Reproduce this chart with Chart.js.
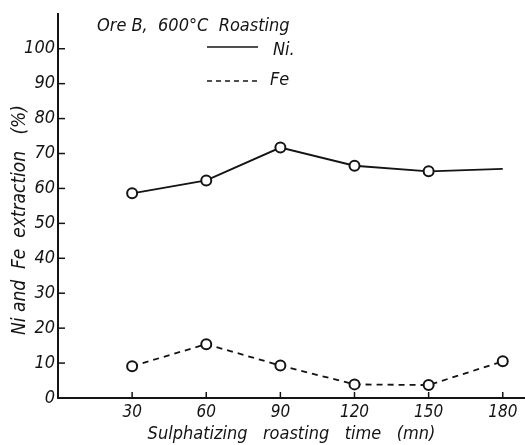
<!DOCTYPE html>
<html>
<head>
<meta charset="utf-8">
<script src="https://cdn.jsdelivr.net/npm/chart.js@4.4.1/dist/chart.umd.min.js"></script>
<style>
  html, body { margin: 0; padding: 0; background: #fff; overflow: hidden; }
  canvas { display: block; }
</style>
</head>
<body>
<canvas id="chart" width="525" height="445"></canvas>
<script>
// sulphatizing roasting time (mn)
const times = [30, 60, 90, 120, 150, 180];
// extraction (%)
const niValues = [58.6, 62.3, 71.7, 66.5, 64.9, 65.6];
const feValues = [9.1, 15.4, 9.3, 3.9, 3.7, 10.5];
const niMarkers = [true, true, true, true, true, false];
const yTicks = [0, 10, 20, 30, 40, 50, 60, 70, 80, 90, 100];
const xTicks = [30, 60, 90, 120, 150, 180];

const titleText = 'Ore B,  600°C  Roasting';
const yTitle = 'Ni and  Fe  extraction   (%)';
const xTitle = 'Sulphatizing   roasting   time   (mn)';

const INK = '#141414';
const FONT = "'Liberation Sans Narrow', 'DejaVu Sans Condensed', 'Liberation Sans', sans-serif";

// title, legend, y title and inward tick marks
const decorations = {
  id: 'decorations',
  afterDraw(chart) {
    const ctx = chart.ctx;
    const xs = chart.scales.x, ys = chart.scales.y;
    ctx.save();
    ctx.strokeStyle = INK;
    ctx.fillStyle = INK;

    // inward ticks
    ctx.lineWidth = 1.5;
    yTicks.forEach(v => {
      const py = ys.getPixelForValue(v);
      ctx.beginPath(); ctx.moveTo(xs.left, py); ctx.lineTo(xs.left + 7, py); ctx.stroke();
    });
    xTicks.forEach(v => {
      const px = xs.getPixelForValue(v);
      ctx.beginPath(); ctx.moveTo(px, ys.bottom); ctx.lineTo(px, ys.bottom - 6); ctx.stroke();
    });

    // title
    ctx.font = "italic 18px " + FONT;
    ctx.textBaseline = 'middle';
    ctx.textAlign = 'left';
    ctx.fillText(titleText, 97, 26);

    // legend
    const ds = chart.data.datasets;
    ctx.lineWidth = 1.6;
    ctx.beginPath(); ctx.moveTo(207, 47); ctx.lineTo(258, 47); ctx.stroke();
    ctx.setLineDash([5, 4]);
    ctx.beginPath(); ctx.moveTo(207, 81); ctx.lineTo(258, 81); ctx.stroke();
    ctx.setLineDash([]);
    ctx.font = "italic 18px " + FONT;
    ctx.fillText(ds[0].label, 273, 50);
    ctx.fillText(ds[1].label, 270, 80);

    // y title
    ctx.translate(20, 220);
    ctx.rotate(-Math.PI / 2);
    ctx.textAlign = 'center';
    ctx.font = "italic 19px " + FONT;
    ctx.fillText(yTitle, 0, 0);
    ctx.restore();
  }
};

const bgPlugin = {
  id: 'bg',
  beforeDraw(chart) {
    const ctx = chart.ctx;
    ctx.save();
    ctx.fillStyle = '#fff';
    ctx.fillRect(0, 0, chart.width, chart.height);
    ctx.restore();
  }
};

new Chart(document.getElementById('chart'), {
  type: 'line',
  data: {
    datasets: [
      {
        label: 'Ni.',
        data: times.map((t, i) => ({ x: t, y: niValues[i] })),
        borderColor: INK,
        borderWidth: 1.8,
        pointRadius: niMarkers.map(m => m ? 5 : 0),
        pointBackgroundColor: '#fff',
        pointBorderColor: INK,
        pointBorderWidth: 2,
        tension: 0
      },
      {
        label: 'Fe',
        data: times.map((t, i) => ({ x: t, y: feValues[i] })),
        borderColor: INK,
        borderWidth: 1.8,
        borderDash: [6, 5],
        pointRadius: 5,
        pointBackgroundColor: '#fff',
        pointBorderColor: INK,
        pointBorderWidth: 2,
        tension: 0
      }
    ]
  },
  options: {
    responsive: false,
    animation: false,
    layout: { autoPadding: false, padding: { top: 10, right: 0, left: 0, bottom: 0 } },
    plugins: {
      legend: { display: false },
      tooltip: { enabled: false }
    },
    scales: {
      x: {
        type: 'linear',
        min: 0,
        max: 189,
        afterBuildTicks(scale) { scale.ticks = xTicks.map(v => ({ value: v })); },
        afterFit(scale) { scale.height = 47; scale.paddingRight = 0; },
        grid: { display: false, drawTicks: false },
        border: { display: true, color: INK, width: 2 },
        ticks: {
          color: INK,
          padding: 4,
          maxRotation: 0,
          font: { family: FONT, size: 17, style: 'italic' }
        },
        title: {
          display: true,
          text: xTitle,
          color: INK,
          padding: { top: 0, bottom: 0 },
          font: { family: FONT, size: 18, style: 'italic' }
        }
      },
      y: {
        min: 0,
        max: 110,
        afterBuildTicks(scale) { scale.ticks = yTicks.map(v => ({ value: v })); },
        afterFit(scale) { scale.width = 58; },
        grid: { display: false, drawTicks: false },
        border: { display: true, color: INK, width: 2 },
        ticks: {
          color: INK,
          padding: 3,
          font: { family: FONT, size: 18, style: 'italic' }
        }
      }
    }
  },
  plugins: [bgPlugin, decorations]
});
</script>
</body>
</html>
